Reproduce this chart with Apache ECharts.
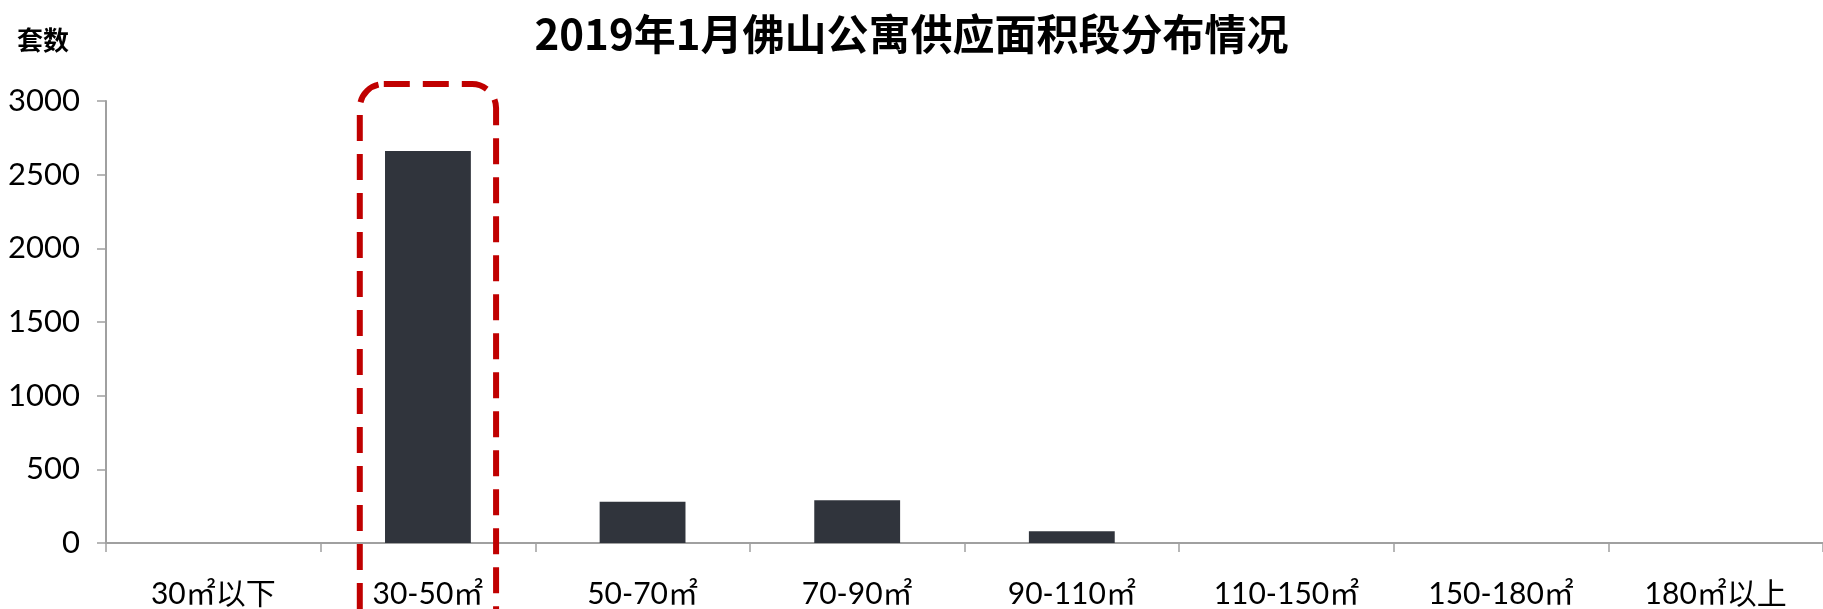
<!DOCTYPE html>
<html>
<head>
<meta charset="utf-8">
<script src="https://cdn.jsdelivr.net/npm/echarts@6/dist/echarts.min.js"></script>
<style>
html,body{margin:0;padding:0;background:#fff;}
#chart{width:1823px;height:609px;}
</style>
</head>
<body>
<div id="chart"></div>
<script>
const titleText = '2019年1月佛山公寓供应面积段分布情况';
const yAxisName = '套数';
const categories = ['30㎡以下', '30-50㎡', '50-70㎡', '70-90㎡', '90-110㎡', '110-150㎡', '150-180㎡', '180㎡以上'];
const supplyUnits = [0, 2660, 280, 290, 80, 0, 0, 0];
const yMin = 0, yMax = 3000, yStep = 500;
const highlightCategory = '30-50㎡';
const highlightTopValue = 3115;

const chart = echarts.init(document.getElementById('chart'), null, {renderer: 'canvas'});
const numFont = 'Lato, "Noto Sans CJK SC", sans-serif';
chart.setOption({
  animation: false,
  backgroundColor: '#ffffff',
  title: [
    {text: titleText, left: 'center', top: 8,
     textStyle: {fontSize: 42, fontWeight: 'bold', color: '#000', fontFamily: '"Noto Sans CJK SC", sans-serif'}},
    {text: yAxisName, left: 12, top: 22,
     textStyle: {fontSize: 26, fontWeight: 'bold', color: '#000', fontFamily: '"Noto Sans CJK SC", sans-serif'}}
  ],
  grid: {left: 106, right: 0, top: 101, bottom: 66, containLabel: false},
  xAxis: {
    type: 'category',
    data: categories,
    axisLine: {lineStyle: {color: '#a0a0a0', width: 2}},
    axisTick: {show: true, length: 9, lineStyle: {color: '#a0a0a0', width: 1.5}},
    axisLabel: {margin: 36, fontSize: 30, color: '#000', fontFamily: numFont, interval: 0}
  },
  yAxis: {
    type: 'value',
    min: yMin, max: yMax, interval: yStep,
    axisLine: {show: true, lineStyle: {color: '#a0a0a0', width: 2}},
    axisTick: {show: true, length: 9, lineStyle: {color: '#a0a0a0', width: 1.5}},
    splitLine: {show: false},
    axisLabel: {margin: 26, fontSize: 31, color: '#000', fontFamily: numFont,
                formatter: function (v) { return String(v); }}
  },
  series: [{
    type: 'bar',
    data: supplyUnits,
    barWidth: '40%',
    itemStyle: {color: '#30343c'}
  }]
});

function drawHighlight() {
  const idx = categories.indexOf(highlightCategory);
  const cx = chart.convertToPixel({xAxisIndex: 0}, idx);
  const band = chart.convertToPixel({xAxisIndex: 0}, idx + 1) - cx;
  const top = chart.convertToPixel({yAxisIndex: 0}, highlightTopValue);
  const w = band * 0.635;
  chart.setOption({
    graphic: [{
      type: 'rect',
      shape: {x: cx - w / 2, y: top, width: w, height: 700, r: 24},
      style: {fill: 'none', stroke: '#c00000', lineWidth: 6, lineDash: [26, 13]},
      z: 100
    }]
  });
}
drawHighlight();
</script>
</body>
</html>
